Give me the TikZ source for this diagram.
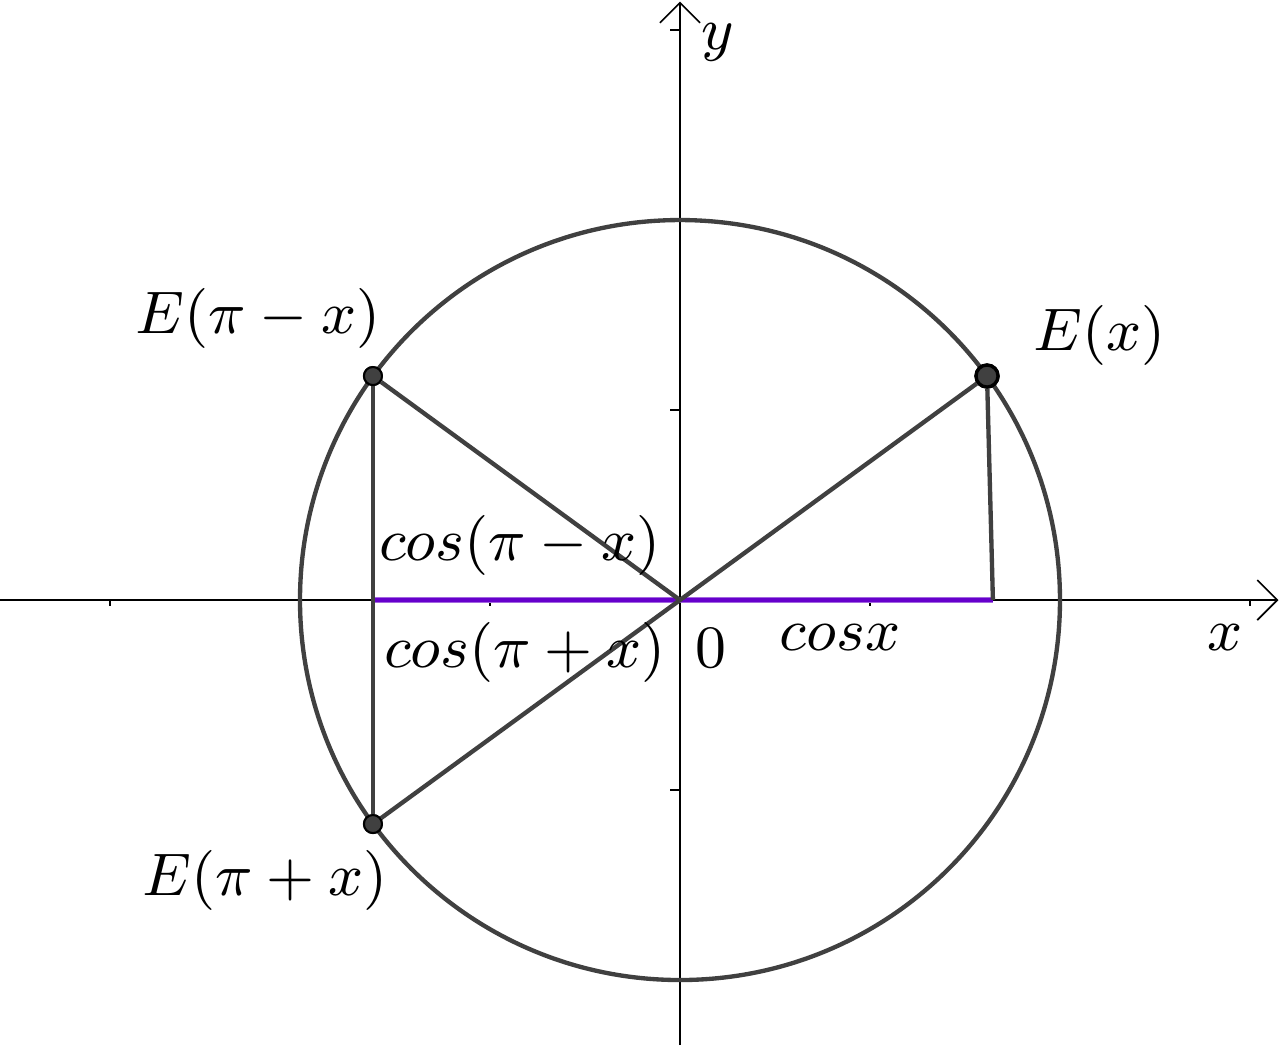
\documentclass[tikz,border=0pt]{standalone}
\usetikzlibrary{arrows.meta}
\definecolor{gline}{RGB}{64,64,64}
\definecolor{cosline}{RGB}{102,0,204}
\tikzset{
  seg/.style={gline,line width=0.65pt},
  pt/.style={circle,draw=black,fill=gline,line width=0.3pt,inner sep=0pt,minimum size=2.7pt},
  lbl/.style={font=\fontsize{8.7}{10}\selectfont}
}
\begin{document}
\begin{tikzpicture}
      \useasboundingbox (-3.579,-2.342) rectangle (3.158,3.158);
      % axes
      \draw[line width=0.25pt,-{Straight Barb[length=3pt,width=6pt]}] (-3.579,0) -- (3.15,0);
      \draw[line width=0.25pt,-{Straight Barb[length=3pt,width=6pt]}] (0,-2.342) -- (0,3.15);
      \foreach \t in {-3,-2,-1,1,2,3} {
        \draw[line width=0.25pt] (\t,0) -- (\t,-0.03);
        \draw[line width=0.25pt] (0,\t) -- (-0.05,\t);
      }
      \draw[seg] (0,0) circle (2);
      \coordinate (O) at (0,0);
      \coordinate (foot) at (1.647,0);
      \coordinate (left) at (-1.616,0);
      \node[pt,minimum size=3.3pt,line width=0.5pt] (Ex) at (1.616,1.179) {};
      \node[pt] (Epm) at (-1.616,1.179) {};
      \node[pt] (Epp) at (-1.616,-1.179) {};
      \draw[cosline!60,line width=0.85pt] (left) -- (foot);
      \draw[cosline,line width=0.5pt] (left) -- (foot);
      \draw[seg] (Epp) -- (Ex);
      \draw[seg] (O) -- (Epm);
      \draw[seg] (Epm) -- (Epp);
      \draw[seg] (Ex) -- (foot);
      \node[pt,minimum size=3.3pt,line width=0.5pt] at (Ex) {};
      \node[pt] at (Epm) {};
      \node[pt] at (Epp) {};
      % labels
      \node[lbl] (lEx) at (2.21,1.395) {$E(x)$};
      \node[lbl] (lEpm) at (-2.221,1.484) {$E(\pi-x)$};
      \node[lbl] (lEpp) at (-2.184,-1.474) {$E(\pi+x)$};
      \node[lbl] (cpm) at (-0.842,0.289) {$cos(\pi-x)$};
      \node[lbl] (cpp) at (-0.816,-0.274) {$cos(\pi+x)$};
      \node[lbl] (zero) at (0.163,-0.253) {$0$};
      \node[lbl] (cx) at (0.842,-0.2) {$cosx$};
      \node[lbl] (xl) at (2.868,-0.2) {$x$};
      \node[lbl] (yl) at (0.2,2.937) {$y$};
    \end{tikzpicture}
\end{document}
